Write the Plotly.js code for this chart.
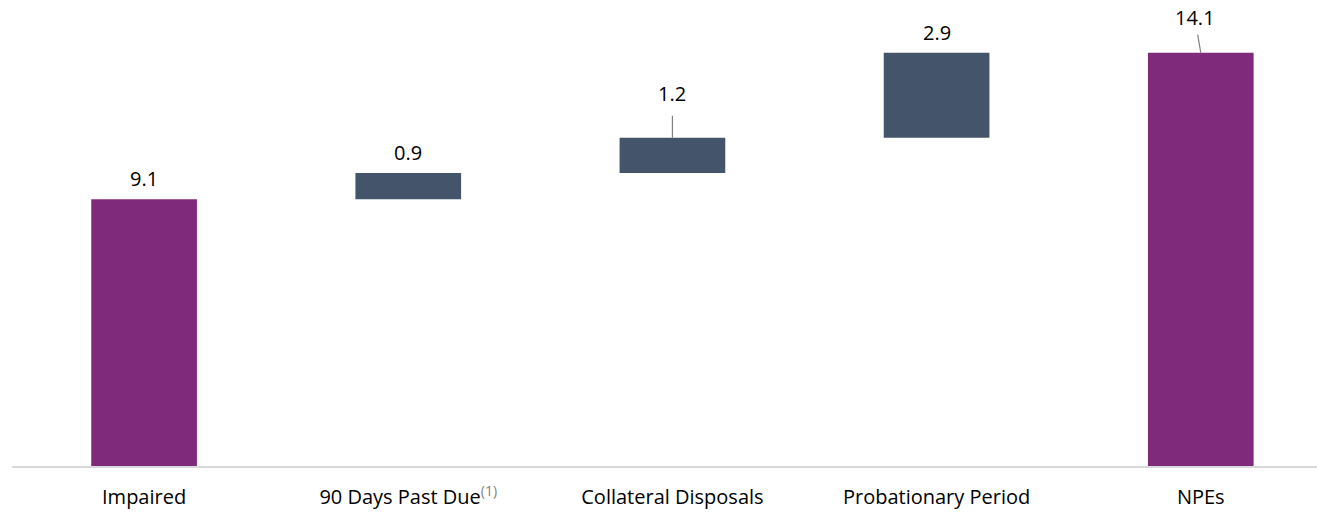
<!DOCTYPE html>
<html>
<head>
<meta charset="utf-8">
<script src="https://cdn.plot.ly/plotly-3.0.1.min.js"></script>
<style>html,body{margin:0;padding:0;background:#fff;}#chart{width:1317px;height:512px;}</style>
</head>
<body>
<div id="chart"></div>
<script>
var categories = ["Impaired", "90 Days Past Due", "Collateral Disposals", "Probationary Period", "NPEs"];
var tickLabels = ["Impaired", "90 Days Past Due<sup><span style=\"color:#7f7f7f\">(1)</span></sup>", "Collateral Disposals", "Probationary Period", "NPEs"];
var values = [9.1, 0.9, 1.2, 2.9, 14.1];
var measures = ["absolute", "relative", "relative", "relative", "total"];
var valueLabels = ["9.1", "0.9", "1.2", "2.9", "14.1"];

(function () {
  var purple = "#7F2A7B";
  var slate = "#44546A";
  var fontFam = "'Open Sans', sans-serif";
  var fontSize = 20;

  var bases = [], heights = [], colors = [];
  var running = 0;
  for (var i = 0; i < values.length; i++) {
    if (measures[i] === "relative") {
      bases.push(running); heights.push(values[i]); running += values[i]; colors.push(slate);
    } else {
      bases.push(0); heights.push(values[i]); running = values[i]; colors.push(purple);
    }
  }

  var trace = {
    type: "bar",
    x: categories,
    y: heights,
    base: bases,
    width: 0.4,
    marker: {color: colors},
    hoverinfo: "skip"
  };

  var annotations = [];
  for (var j = 0; j < categories.length; j++) {
    var barTop = bases[j] + heights[j];
    var a = {x: categories[j], y: barTop, xref: "x", yref: "y", text: valueLabels[j],
      font: {family: fontFam, size: fontSize, color: "#000"}};
    if (j === 2) {
      a.showarrow = true; a.arrowhead = 0; a.arrowwidth = 1.2; a.arrowcolor = "#7f7f7f";
      a.ax = 0; a.ay = -44; a.startstandoff = 7;
    } else if (j === 4) {
      a.showarrow = true; a.arrowhead = 0; a.arrowwidth = 1.2; a.arrowcolor = "#7f7f7f";
      a.ax = -6; a.ay = -35; a.startstandoff = 2;
    } else {
      a.showarrow = false; a.yanchor = "bottom"; a.yshift = 5;
    }
    annotations.push(a);
  }

  var layout = {
    width: 1317, height: 512,
    margin: {l: 12, r: 0, t: 0, b: 46},
    paper_bgcolor: "#fff", plot_bgcolor: "#fff",
    showlegend: false,
    font: {family: fontFam, size: fontSize, color: "#000"},
    xaxis: {
      type: "category",
      range: [-0.5, 4.44],
      tickmode: "array", tickvals: categories, ticktext: tickLabels,
      showline: true, linecolor: "#d9d9d9", linewidth: 2,
      ticks: "outside", ticklen: 12, tickcolor: "rgba(0,0,0,0)",
      showgrid: false, zeroline: false,
      tickfont: {family: fontFam, size: fontSize, color: "#000"}
    },
    yaxis: {
      range: [0, 15.9], showgrid: false, zeroline: false, showline: false,
      showticklabels: false, ticks: ""
    },
    annotations: annotations
  };

  Plotly.newPlot("chart", [trace], layout, {staticPlot: true, displayModeBar: false});
})();
</script>
</body>
</html>
